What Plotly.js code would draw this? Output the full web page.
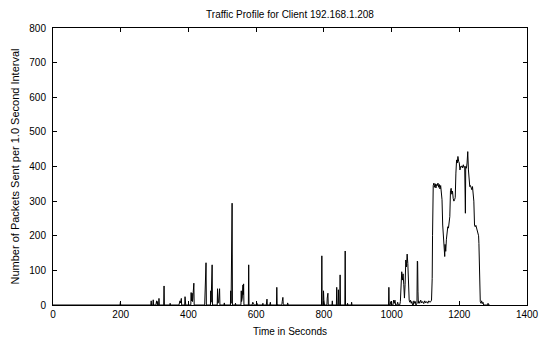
<!DOCTYPE html>
<html>
<head>
<meta charset="utf-8">
<script src="https://cdn.plot.ly/plotly-3.0.1.min.js"></script>
<style>
html,body{margin:0;padding:0;background:#fff;}
#chart{width:541px;height:339px;}
</style>
</head>
<body>
<div id="chart"></div>
<script>
// Time (s) and packets per 1.0 s interval
const times = [
  0, 198, 199, 200, 289, 290, 291, 295, 296, 297, 304, 305, 306, 307, 308, 309,
  312, 313, 314, 327, 328, 329, 345, 346, 347, 372, 373, 375, 377, 379, 380,
  389, 390, 391, 392, 407, 408, 409, 411, 412, 413, 416, 417,
  448, 449, 450, 452, 453, 465, 466, 467, 470, 471,
  485, 486, 487, 489, 492, 493, 505, 506, 507,
  524, 525, 526, 529, 530, 538, 539, 540,
  555, 556, 557, 559, 561, 562, 563, 564, 577, 578, 579,
  588, 590, 592, 594, 600, 602, 604, 618, 620, 621, 630, 632, 633, 640, 642, 643,
  660, 661, 662, 664, 676, 677, 679, 680, 682, 692, 693, 695,
  793, 794, 795, 798, 799, 800, 802, 809, 810, 812, 813, 824, 825, 826,
  837, 838, 839, 842, 843, 844, 847, 848, 849, 862, 863, 864, 869, 870, 871,
  881, 882, 883,
  991, 992, 993, 995, 998, 999, 1004, 1006, 1008, 1010, 1012, 1016, 1018, 1020,
  1024, 1026, 1028, 1030, 1032, 1034, 1036, 1038, 1040, 1042, 1044, 1046, 1048,
  1050, 1052, 1054, 1056, 1058, 1060, 1062, 1064, 1066, 1068, 1070, 1072,
  1075, 1076, 1077, 1078, 1079, 1080, 1083, 1086, 1089, 1092, 1095, 1098, 1101,
  1104, 1107, 1110, 1113, 1116, 1118, 1119, 1120, 1121, 1122, 1123, 1125, 1127,
  1129, 1131, 1133, 1135, 1137, 1139, 1141, 1143, 1145, 1147, 1149, 1151, 1153,
  1155, 1157, 1158, 1160, 1162, 1164, 1166, 1168, 1170, 1172, 1174, 1176, 1178,
  1180, 1182, 1184, 1186, 1188, 1190, 1192, 1194, 1196, 1198, 1200, 1202, 1204,
  1206, 1208, 1210, 1212, 1214, 1216, 1218, 1219, 1221, 1223, 1225, 1227, 1229,
  1231, 1233, 1235, 1237, 1239, 1241, 1243, 1245, 1247, 1249, 1251, 1253, 1255,
  1257, 1258, 1259, 1260, 1262, 1264, 1266, 1268, 1270, 1272, 1284, 1285, 1286, 1290
];
const packets = [
  0, 0, 8, 0, 0, 12, 0, 0, 15, 0, 0, 8, 12, 5, 10, 0,
  0, 19, 0, 0, 55, 0, 0, 5, 0, 0, 8, 12, 6, 19, 0,
  0, 24, 8, 0, 0, 36, 12, 34, 10, 20, 63, 0,
  0, 47, 10, 122, 0, 0, 41, 8, 116, 0,
  0, 47, 5, 8, 47, 0, 0, 6, 0,
  0, 41, 5, 294, 0, 0, 5, 0,
  0, 41, 10, 20, 58, 30, 61, 0, 0, 116, 0,
  0, 8, 5, 0, 0, 6, 0, 0, 5, 0, 0, 17, 0, 0, 8, 0,
  0, 51, 5, 0, 0, 10, 22, 5, 0, 0, 6, 0,
  0, 142, 0, 0, 41, 15, 0, 0, 20, 34, 0, 0, 12, 0,
  0, 51, 0, 0, 44, 0, 0, 87, 0, 0, 156, 0, 0, 5, 0,
  0, 8, 0,
  0, 51, 5, 0, 10, 0, 0, 14, 5, 14, 0, 0, 8, 0,
  0, 10, 40, 96, 72, 90, 60, 20, 60, 130, 110, 147, 120,
  60, 14, 8, 14, 5, 10, 0, 0, 12, 5, 10, 0,
  5, 127, 125, 40, 5, 12, 5, 14, 6, 10, 4, 12, 6,
  10, 5, 12, 8, 10, 14, 30, 77, 200, 330, 345, 352, 340,
  350, 338, 348, 345, 352, 340, 348, 335, 345, 330, 304, 231, 188,
  160, 140, 175, 155, 190, 217, 226, 222, 236, 255, 330, 337, 320,
  329, 308, 300, 304, 310, 381, 419, 410, 429, 415, 410, 390, 400,
  398, 402, 396, 405, 398, 400, 265, 400, 395, 410, 443, 390, 357,
  342, 345, 338, 333, 342, 323, 300, 231, 226, 230, 222, 215, 210,
  200, 178, 100, 13, 10, 5, 12, 4, 8, 0, 0, 5, 0, 0
];
const xTicks = [0, 200, 400, 600, 800, 1000, 1200, 1400];
const yTicks = [0, 100, 200, 300, 400, 500, 600, 700, 800];

const font = {family: 'Liberation Sans, Arial, sans-serif', size: 10, color: '#000'};
const yTitleFont = {family: 'Liberation Sans, Arial, sans-serif', size: 11, color: '#000'};

Plotly.newPlot('chart', [{
  x: times,
  y: packets,
  type: 'scatter',
  mode: 'lines',
  line: {color: '#000', width: 1},
  hoverinfo: 'skip'
}], {
  width: 541,
  height: 339,
  margin: {l: 53, r: 14, t: 28, b: 34},
  paper_bgcolor: '#fff',
  plot_bgcolor: '#fff',
  font: font,
  showlegend: false,
  title: {text: 'Traffic Profile for Client 192.168.1.208', font: font,
          x: 0.5, xref: 'paper', xanchor: 'center', y: 0.957, yref: 'container', yanchor: 'middle'},
  xaxis: {
    range: [0, 1400], tickvals: xTicks, ticktext: xTicks.map(String),
    ticks: 'inside', ticklen: 4, tickcolor: '#000', tickwidth: 1,
    showline: true, linecolor: '#000', linewidth: 1, mirror: 'allticks',
    showgrid: false, zeroline: false, tickfont: font,
    title: {text: 'Time in Seconds', font: font, standoff: 8}
  },
  yaxis: {
    range: [0, 800], tickvals: yTicks, ticktext: yTicks.map(String),
    ticks: 'inside', ticklen: 4, tickcolor: '#000', tickwidth: 1,
    showline: true, linecolor: '#000', linewidth: 1, mirror: 'allticks',
    showgrid: false, zeroline: false, tickfont: font, ticklabelstandoff: 4,
    title: {text: 'Number of Packets Sent per 1.0 Second Interval', font: yTitleFont, standoff: 7}
  }
}, {staticPlot: true, displayModeBar: false});
</script>
</body>
</html>
